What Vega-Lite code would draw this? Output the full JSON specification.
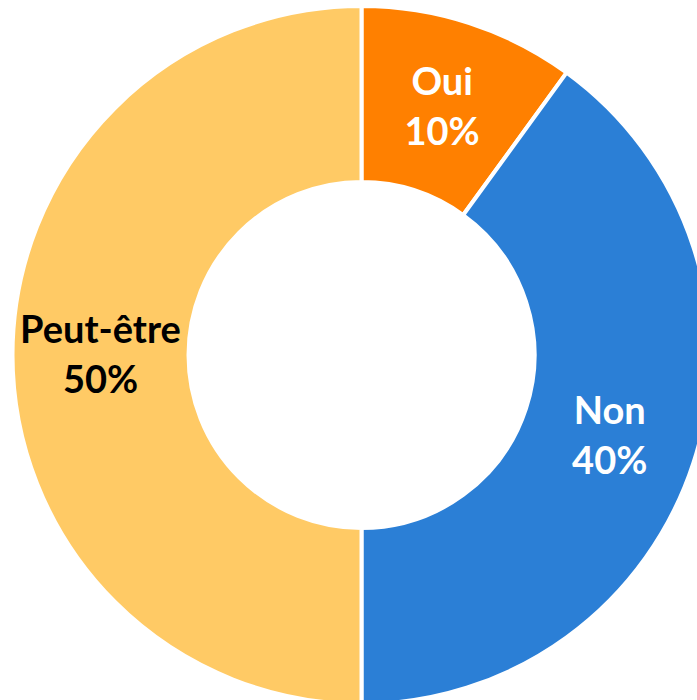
{
  "$schema": "https://vega.github.io/schema/vega-lite/v6.json",
  "width": 671,
  "height": 690,
  "autosize": "none",
  "padding": {"left": 26, "top": 10, "right": 0, "bottom": 0},
  "background": "white",
  "config": {"view": {"stroke": null}},
  "data": {
    "values": [
      {"cat": "Oui", "value": 10, "order": 1, "label": "Oui\n10%"},
      {"cat": "Non", "value": 40, "order": 2, "label": "Non\n40%"},
      {"cat": "Peut-être", "value": 50, "order": 3, "label": "Peut-être\n50%"}
    ]
  },
  "encoding": {
    "theta": {"field": "value", "type": "quantitative", "stack": true},
    "order": {"field": "order", "type": "quantitative"}
  },
  "layer": [
    {
      "mark": {"type": "arc", "outerRadius": 349, "innerRadius": 173, "stroke": "white", "strokeWidth": 4, "strokeJoin": "bevel"},
      "encoding": {
        "color": {
          "field": "cat",
          "type": "nominal",
          "scale": {"domain": ["Oui", "Non", "Peut-être"], "range": ["#FF8000", "#2B7FD6", "#FFCA65"]},
          "legend": null
        }
      }
    },
    {
      "mark": {
        "type": "text",
        "radius": 261,
        "font": "Lato",
        "fontWeight": "bold",
        "fontSize": 38,
        "lineBreak": "\n",
        "lineHeight": 50,
        "baseline": "middle",
        "align": "center",
        "dy": -23
      },
      "encoding": {
        "text": {"field": "label", "type": "nominal"},
        "color": {"condition": {"test": "datum.cat === 'Peut-être'", "value": "black"}, "value": "white"}
      }
    }
  ]
}
